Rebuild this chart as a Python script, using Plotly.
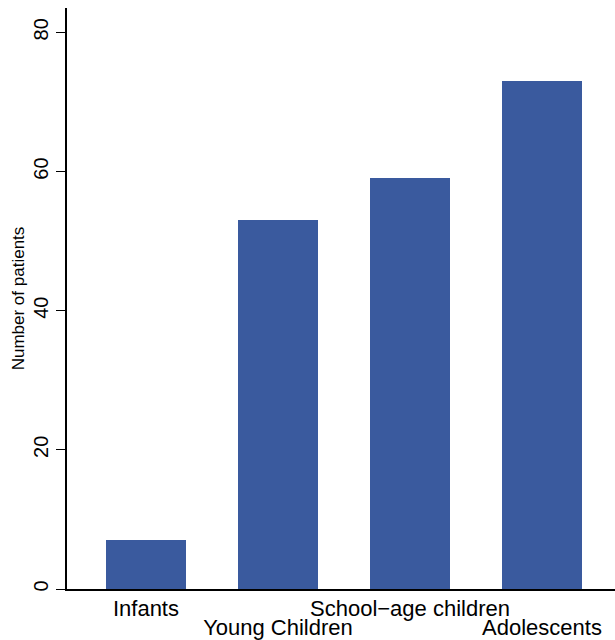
import plotly.graph_objects as go

categories = ["Infants", "Young Children", "School\u2212age children", "Adolescents"]
patients = [7, 53, 59, 73]
row1_labels = ["Infants", "", "School\u2212age children", ""]
row2_labels = ["", "Young Children", "", "Adolescents"]
y_ticks = [0, 20, 40, 60, 80]

positions = list(range(len(categories)))

fig = go.Figure()
fig.add_trace(go.Bar(
    x=positions, y=patients, width=0.606,
    marker=dict(color="#3a5a9e", line=dict(width=0)),
    hovertext=categories, hoverinfo="text+y",
))
fig.add_trace(go.Scatter(
    x=positions, y=patients, xaxis="x2", mode="markers",
    marker=dict(opacity=0), hoverinfo="skip", showlegend=False,
))

fig.update_layout(
    width=615, height=640,
    margin=dict(l=67, r=0, t=8, b=51, autoexpand=False),
    plot_bgcolor="white", paper_bgcolor="white",
    font=dict(family="Liberation Sans, Arial, sans-serif", color="black"),
    showlegend=False,
    bargap=0,
    xaxis=dict(
        range=[-0.598, 3.553],
        tickmode="array", tickvals=positions, ticktext=row1_labels,
        ticks="", showline=True, linecolor="black", linewidth=1.5,
        showgrid=False, zeroline=False, automargin=False,
        tickangle=0, tickfont=dict(size=22), ticklabelstandoff=-1,
    ),
    xaxis2=dict(
        overlaying="x", matches="x", anchor="y", side="bottom",
        tickmode="array", tickvals=positions, ticktext=row2_labels,
        ticks="", showline=False,
        showgrid=False, zeroline=False, automargin=False,
        tickangle=0, tickfont=dict(size=22), ticklabelstandoff=23,
    ),
    yaxis=dict(
        range=[0, 83.5],
        tickmode="array", tickvals=y_ticks,
        ticks="outside", ticklen=9, tickwidth=1.2, tickcolor="black",
        tickangle=-90, tickfont=dict(size=20),
        showline=True, linecolor="black", linewidth=1.5,
        showgrid=False, zeroline=False, automargin=False,
        title=dict(text="Number of patients", font=dict(size=17), standoff=1),
    ),
)

fig.write_html("out.html", config={"displayModeBar": False},
               post_script="document.body.style.margin='0px';")
